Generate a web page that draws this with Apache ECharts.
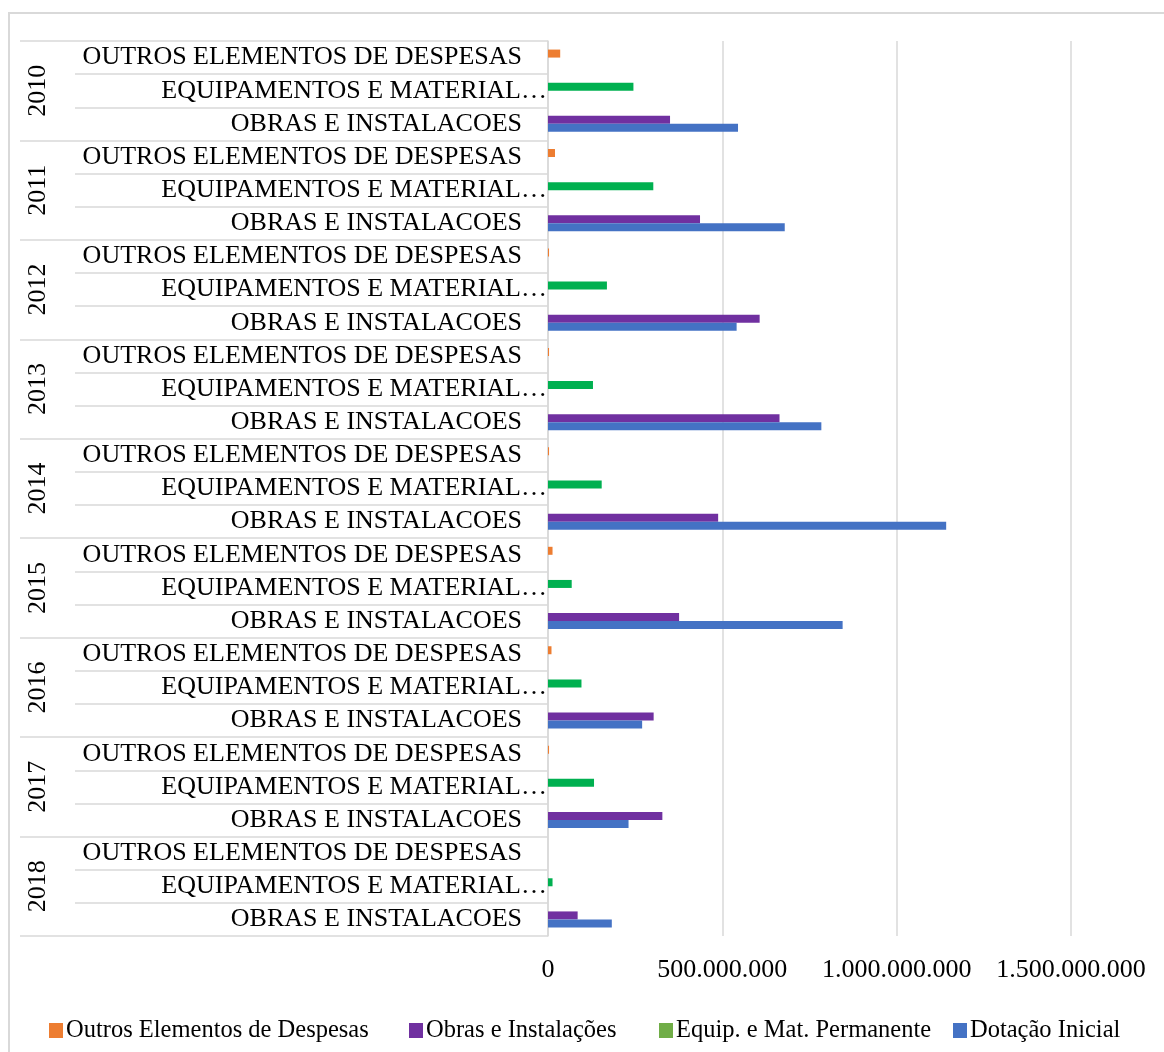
<!DOCTYPE html>
<html lang="pt">
<head>
<meta charset="UTF-8" />
<title>Despesas por ano</title>
<script src="https://cdn.jsdelivr.net/npm/echarts@6/dist/echarts.min.js"></script>
<style>
  html, body { margin: 0; padding: 0; background: #fff; overflow: hidden; }
  #main { width: 1164px; height: 1052px; }
</style>
</head>
<body>
<div id="main"></div>
<script type="text/javascript">

// dados
var anos = ['2010', '2011', '2012', '2013', '2014', '2015', '2016', '2017', '2018'];
var itens = ['OUTROS ELEMENTOS DE DESPESAS', 'EQUIPAMENTOS E MATERIAL PERMANENTE', 'OBRAS E INSTALACOES'];
var nomesSeries = ['Outros Elementos de Despesas', 'Obras e Instalações', 'Equip. e Mat. Permanente', 'Dotação Inicial'];

var outros  = [35e6, 20e6, 3e6, 3e6, 3e6, 13e6, 10e6, 3e6, 0];
var equip   = [245e6, 302e6, 169e6, 129e6, 154e6, 68e6, 96e6, 132e6, 13e6];
var obras   = [350e6, 436e6, 607e6, 664e6, 488e6, 376e6, 303e6, 328e6, 85e6];
var dotacao = [545e6, 679e6, 541e6, 784e6, 1142e6, 845e6, 270e6, 231e6, 183e6];

// monta as 27 categorias (ano x item)
var categorias = [], sOutros = [], sObras = [], sEquip = [], sDot = [];
for (var i = 0; i < anos.length; i++) {
    categorias.push(itens[0], itens[1], itens[2]);
    sOutros.push(outros[i], 0, 0);
    sEquip.push(0, equip[i], 0);
    sObras.push(0, 0, obras[i]);
    sDot.push(0, 0, dotacao[i]);
}

function pontos(v) {
    return String(v).replace(/\B(?=(\d{3})+(?!\d))/g, '.');
}

var cinza = '#d9d9d9';
var fonte = 'Liberation Serif';

var myChart = echarts.init(document.getElementById('main'));
var option = {
    animation: false,
    textStyle: { fontFamily: fonte },
    graphic: [{
        type: 'rect',
        z: -1,
        shape: { x: 9, y: 13, width: 1300, height: 1200 },
        style: { fill: 'none', stroke: cinza, lineWidth: 2 }
    }],
    grid: { left: 548, right: 93, top: 41, bottom: 116 },
    legend: [
        { left: 49, top: 1018 },
        { left: 409, top: 1018 },
        { left: 659, top: 1018 },
        { left: 953, top: 1018 }
    ].map(function (p, k) {
        var item = { name: nomesSeries[k] };
        if (k === 2) item.itemStyle = { color: '#70AD47' };
        return {
            left: p.left, top: p.top, padding: 0,
            icon: 'rect', itemWidth: 14, itemHeight: 15,
            textStyle: { fontFamily: fonte, fontSize: 24.5, color: '#000', padding: [0, 0, 0, -2] },
            data: [item]
        };
    }),
    xAxis: {
        type: 'value',
        min: 0,
        max: 1.5e9,
        interval: 5e8,
        axisLine: { show: false },
        axisTick: { show: false },
        splitLine: { lineStyle: { color: cinza, width: 1.5 } },
        axisLabel: {
            margin: 21,
            fontFamily: fonte,
            fontSize: 26,
            color: '#000',
            formatter: function (v) { return pontos(v); }
        }
    },
    yAxis: [{
        type: 'category',
        data: categorias,
        inverse: true,
        position: 'left',
        axisLine: { show: true, lineStyle: { color: cinza, width: 1.5 } },
        axisTick: { show: true, length: 473, interval: 0, lineStyle: { color: cinza, width: 1.5 } },
        axisLabel: {
            interval: 0,
            margin: 1,
            fontFamily: fonte,
            fontSize: 26,
            color: '#000',
            formatter: function (v) {
                if (v.length > 28) return '{t|' + v.slice(0, 23) + '…}';
                return '{t|' + v + '}{s|}';
            },
            rich: {
                t: { fontFamily: fonte, fontSize: 26, color: '#000' },
                s: { width: 25 }
            }
        }
    }, {
        type: 'category',
        data: anos,
        inverse: true,
        position: 'left',
        axisLine: { show: false },
        axisTick: { show: true, length: 528, interval: 0, lineStyle: { color: cinza, width: 1.5 } },
        axisLabel: {
            interval: 0,
            rotate: 90,
            margin: 497,
            fontFamily: fonte,
            fontSize: 26,
            color: '#000'
        }
    }],
    series: [
        { name: nomesSeries[0], type: 'bar', stack: 'a', barWidth: 8, barGap: '0%', data: sOutros, itemStyle: { color: '#ED7D31' } },
        { name: nomesSeries[1], type: 'bar', stack: 'a', barWidth: 8, barGap: '0%', data: sObras, itemStyle: { color: '#7030A0' } },
        { name: nomesSeries[2], type: 'bar', stack: 'a', barWidth: 8, barGap: '0%', data: sEquip, itemStyle: { color: '#00B050' } },
        { name: nomesSeries[3], type: 'bar', stack: 'b', barWidth: 8, barGap: '0%', data: sDot, itemStyle: { color: '#4472C4' } }
    ]
};
myChart.setOption(option);
</script>
</body>
</html>
